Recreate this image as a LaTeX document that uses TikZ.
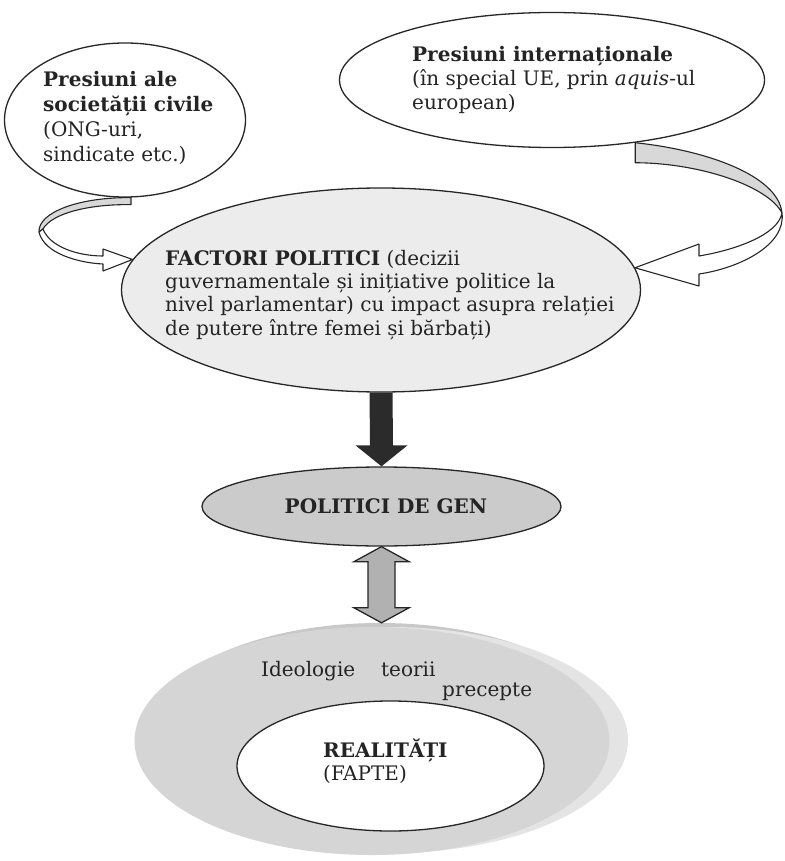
\documentclass[tikz,border=0pt]{standalone}
\usepackage{fontspec}
\setmainfont{DejaVu Serif}
\usetikzlibrary{shapes.geometric,calc}

\definecolor{inkgray}{HTML}{242424}
\definecolor{factfill}{HTML}{ECECEC}
\definecolor{genfill}{HTML}{CBCBCB}
\definecolor{ideofill}{HTML}{D5D5D5}
\definecolor{ideotop}{HTML}{C8C8C8}
\definecolor{ideolight}{HTML}{E4E4E4}
\definecolor{ribgray}{HTML}{D8D8D8}
\definecolor{darkarrow}{HTML}{2B2B2B}
\definecolor{grayarrow}{HTML}{B1B1B1}

\begin{document}
\begin{tikzpicture}[x=1pt,y=-1pt,
  bubble/.style={ellipse,draw=black!85,line width=1.3pt,inner sep=0pt},
  txt/.style={inner sep=0pt,align=left,text=inkgray,font=\fontsize{20}{23.3}\selectfont},
  ribbon/.style={draw=black!85,line width=1.1pt,line join=round}]
\useasboundingbox (0,0) rectangle (784,861);

% bottom: ideology ring and facts
\node[ellipse,fill=ideotop,minimum width=470pt,minimum height=228pt] (ideoA) at (380,737) {};
\node[ellipse,fill=ideolight,minimum width=476pt,minimum height=226pt] (ideoB) at (390,740) {};
\node[ellipse,fill=ideofill,minimum width=475pt,minimum height=228pt] (ideo) at (372,741) {};
\node[bubble,fill=white,minimum width=307pt,minimum height=130pt] (real) at (390.5,766) {};

% pressures and political factors
\node[bubble,fill=white,minimum width=241pt,minimum height=154pt] (civil) at (125,120) {};
\node[bubble,fill=white,minimum width=425pt,minimum height=135pt] (intl) at (552,80) {};
\node[bubble,fill=factfill,minimum width=519pt,minimum height=204pt] (fact) at (381,290) {};
\node[bubble,fill=genfill,minimum width=359pt,minimum height=79pt,text=inkgray,
  font=\fontsize{20}{23.3}\selectfont\bfseries] (gen) at (381.5,506.5) {\hspace{9pt}POLITICI DE GEN};

% texts (base = last line)
\node[txt,anchor=base west,font=\fontsize{20}{25}\selectfont] (civiltxt) at (43,162)
  {\textbf{Presiuni ale}\\\textbf{societății civile}\\(ONG-uri,\\sindicate etc.)};
\node[txt,anchor=base west,font=\fontsize{20}{24}\selectfont] (intltxt) at (412,110)
  {\textbf{Presiuni internaționale}\\(în special UE, prin \textit{aquis}-ul\\european)};
\node[txt,anchor=base west] (facttxt) at (165,335)
  {\textbf{FACTORI POLITICI} (decizii\\guvernamentale și inițiative politice la\\nivel parlamentar) cu impact asupra relației\\de putere între femei și bărbați)};
\node[txt,anchor=base west,font=\fontsize{20}{23}\selectfont] (realtxt) at (323,780) {\textbf{REALITĂȚI}\\(FAPTE)};
\node[txt,anchor=base west] (ideol) at (261,676) {Ideologie};
\node[txt,anchor=base west] (teorii) at (381,676) {teorii};
\node[txt,anchor=base west] (precepte) at (442,696) {precepte};

% curved arrow from civil society
\filldraw[ribbon,fill=ribgray] ($(civil.south)+(6,0)$) .. controls (80,197) and (38,212) .. (39,232)
  -- (43,229) .. controls (52,213) and (90,204) .. ($(civil.south)+(6,7)$) -- cycle;
\filldraw[ribbon,fill=white] (39,232) .. controls (44,254) and (80,263) .. (103,264) -- (103,271)
  -- (fact.173) -- (103,249) -- (103,256) .. controls (78,256) and (50,247) .. (43,229) -- cycle;

% curved arrow from international pressure
\filldraw[ribbon,fill=ribgray] (intl.-37) .. controls (705,150) and (778,175) .. (782,213)
  .. controls (768,186) and (700,163) .. ($(intl.-37)+(0,20)$) -- cycle;
\filldraw[ribbon,fill=white] (782,213) .. controls (786,245) and (740,268) .. (699,274) -- (699,286)
  -- (fact.5) -- (699,244) -- (699,256) .. controls (735,250) and (778,235) .. (782,213) -- cycle;

% block arrows
\fill[darkarrow] ($(fact.south)+(-11.5,0)$) -- ($(fact.south)+(11.5,0)$) -- ($(gen.north)+(11.5,-21)$)
  -- ($(gen.north)+(26,-21)$) -- (gen.north) -- ($(gen.north)+(-26,-21)$) -- ($(gen.north)+(-11.5,-21)$) -- cycle;
\coordinate (dt) at (gen.south);
\coordinate (db) at (gen.south |- ideoA.north);
\filldraw[fill=grayarrow,draw=black!85,line width=1.3pt,line join=miter]
  (dt) -- ($(dt)+(27.5,15)$) -- ($(dt)+(13.5,15)$) -- ($(db)+(13.5,-15)$) -- ($(db)+(27.5,-15)$)
  -- (db) -- ($(db)+(-27.5,-15)$) -- ($(db)+(-13.5,-15)$) -- ($(dt)+(-13.5,15)$) -- ($(dt)+(-27.5,15)$) -- cycle;
\end{tikzpicture}
\end{document}
